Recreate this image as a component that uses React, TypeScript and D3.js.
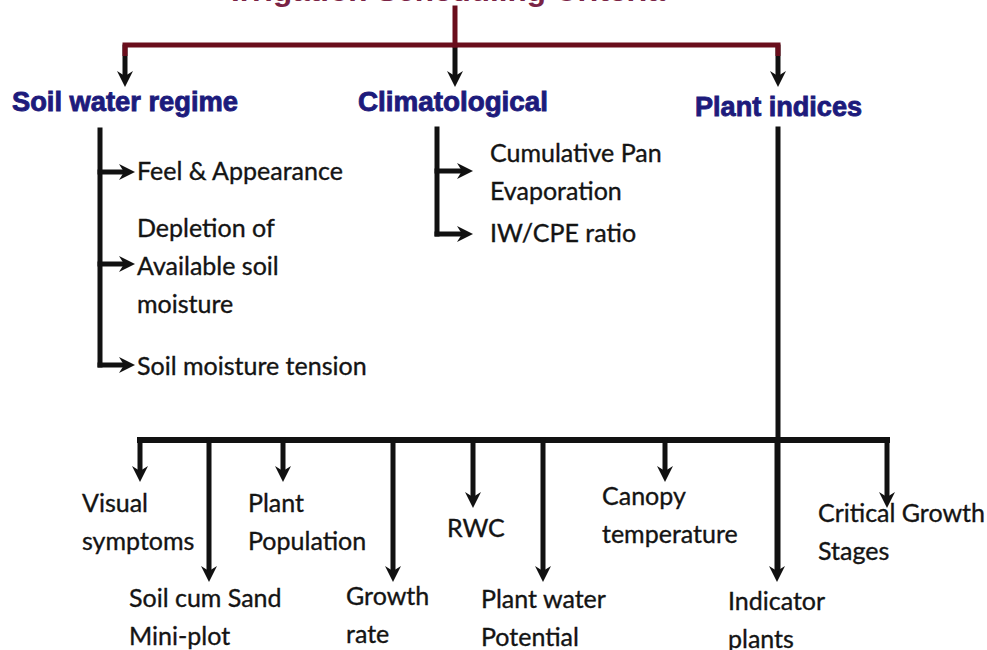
import { useRef, useEffect } from "react";
import * as d3 from "d3";

const title = "Irrigation Scheduling Criteria";
const categories = ["Soil water regime", "Climatological", "Plant indices"];
const soilItems = [
  ["Feel & Appearance"],
  ["Depletion of", "Available soil", "moisture"],
  ["Soil moisture tension"],
];
const climItems = [["Cumulative Pan", "Evaporation"], ["IW/CPE ratio"]];
const plantItems = [
  ["Visual", "symptoms"],
  ["Soil cum Sand", "Mini-plot"],
  ["Plant", "Population"],
  ["Growth", "rate"],
  ["RWC"],
  ["Plant water", "Potential"],
  ["Canopy", "temperature"],
  ["Indicator", "plants"],
  ["Critical Growth", "Stages"],
];

// layout (px) for the diagram
const headX = [125, 455, 778];
const headTextX = [12, 358, 695];
const headBase = [111, 111, 116];
const headWidth = [226, 190, 167];
const soilArrowY = [172, 264, 365];
const soilTextY = [180, 237, 375];
const climArrowY = [171, 234];
const climTextY = [162, 242];
const branchX = [140, 209, 283, 393, 473, 543, 665, 777, 887];
const branchTip = [482, 582, 482, 582, 508, 582, 482, 582, 508];
const branchTextX = [82, 129, 248, 346, 447, 481, 602, 728, 818];
const branchTextY = [512, 607, 512, 605, 537, 608, 505, 610, 522];

export default function App() {
  const svgRef = useRef<SVGSVGElement>(null);

  useEffect(() => {
    if (!svgRef.current) return;
    const svg = d3.select(svgRef.current);
    svg.selectAll("*").remove();

    const black = "#111";
    const maroon = "#6a0e1c";
    const navy = "#1d1b7c";
    const bodyFont = "Lato, 'Open Sans', sans-serif";
    const lineGap = 38;
    const lw = 5;

    svg.append("rect").attr("width", 987).attr("height", 650).attr("fill", "#fff");

    const arrow = (x: number, y: number, dir: "down" | "right") => {
      const L = 16, H = 8, N = 11;
      const p =
        dir === "down"
          ? `M${x},${y}L${x - H},${y - L}L${x},${y - N}L${x + H},${y - L}Z`
          : `M${x},${y}L${x - L},${y - H}L${x - N},${y}L${x - L},${y + H}Z`;
      svg.append("path").attr("d", p).attr("fill", black);
    };
    const line = (x1: number, y1: number, x2: number, y2: number, c = black, w = lw) =>
      svg
        .append("line")
        .attr("x1", x1)
        .attr("y1", y1)
        .attr("x2", x2)
        .attr("y2", y2)
        .attr("stroke", c)
        .attr("stroke-width", w)
        .attr("stroke-linecap", "square");

    const lines = (rows: string[], x: number, y: number) => {
      const t = svg
        .append("text")
        .attr("font-family", bodyFont)
        .attr("font-size", 25)
        .attr("fill", "#141414")
        .attr("stroke", "#141414")
        .attr("stroke-width", 0.35);
      rows.forEach((r, i) => {
        t.append("tspan").attr("x", x).attr("y", y + i * lineGap).text(r);
      });
    };

    // title, mostly cut off at the top
    svg
      .append("text")
      .attr("x", 231)
      .attr("y", 1)
      .attr("font-family", "'Liberation Sans', Arial, sans-serif")
      .attr("font-weight", "bold")
      .attr("font-size", 30)
      .attr("fill", "#7a2345")
      .attr("textLength", 434)
      .attr("lengthAdjust", "spacingAndGlyphs")
      .text(title);

    // top connectors
    headX.forEach((x) => {
      line(x, 47, x, 75);
      arrow(x, 87, "down");
    });
    line(headX[1], 8, headX[1], 45, maroon, 5);
    svg
      .append("path")
      .attr("d", `M${headX[0]},56V45H${headX[2]}V56`)
      .attr("fill", "none")
      .attr("stroke", maroon)
      .attr("stroke-width", 5);

    // headings
    categories.forEach((c, i) => {
      svg
        .append("text")
        .attr("x", headTextX[i])
        .attr("y", headBase[i])
        .attr("font-family", "'Liberation Sans Narrow', 'Liberation Sans', Arial, sans-serif")
        .attr("font-weight", "bold")
        .attr("font-size", 28)
        .attr("fill", navy)
        .attr("stroke", navy)
        .attr("stroke-width", 0.9)
        .attr("textLength", headWidth[i])
        .attr("lengthAdjust", "spacingAndGlyphs")
        .text(c);
    });

    // soil water regime branch
    line(100, 130, 100, soilArrowY[soilArrowY.length - 1]);
    soilItems.forEach((rows, i) => {
      line(100, soilArrowY[i], 123, soilArrowY[i]);
      arrow(135, soilArrowY[i], "right");
      lines(rows, 137, soilTextY[i]);
    });

    // climatological branch
    line(437, 129, 437, climArrowY[climArrowY.length - 1]);
    climItems.forEach((rows, i) => {
      line(437, climArrowY[i], 461, climArrowY[i]);
      arrow(473, climArrowY[i], "right");
      lines(rows, 490, climTextY[i]);
    });

    // plant indices branch
    line(headX[2], 129, headX[2], 570);
    line(branchX[0], 440, branchX[branchX.length - 1], 440, black, 6);
    plantItems.forEach((rows, i) => {
      line(branchX[i], 440, branchX[i], branchTip[i] - 12);
      arrow(branchX[i], branchTip[i], "down");
      lines(rows, branchTextX[i], branchTextY[i]);
    });
  }, []);

  return (
    <svg
      ref={svgRef}
      width={987}
      height={650}
      viewBox="0 0 987 650"
      style={{ position: "absolute", left: 0, top: 0 }}
    />
  );
}
